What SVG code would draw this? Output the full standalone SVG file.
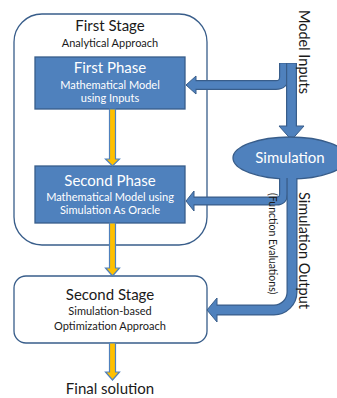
<svg xmlns="http://www.w3.org/2000/svg" width="337" height="398" viewBox="0 0 337 398">
<style>
text{font-family:Lato,"Liberation Sans",sans-serif;fill:#1a1a1a;text-anchor:middle}
.w{fill:#ffffff}
.stage{fill:#ffffff;stroke:#385D8A;stroke-width:1.3}
.phase{fill:#4F81BD;stroke:#385D8A;stroke-width:1.3}
.ya{fill:#FFC000;stroke:#4F81BD;stroke-width:1.2}
.bo{fill:none;stroke:#385D8A;stroke-linejoin:round}
.bi{fill:none;stroke:#4F81BD;stroke-linejoin:round}
.bh{fill:#4F81BD;stroke:#385D8A;stroke-width:1;stroke-linejoin:round}
.lg{font-size:15px}
.sm{font-size:11px}
.rt{text-anchor:start;font-size:14.5px}
.rs{text-anchor:start;font-size:10.5px}
</style>
<rect width="337" height="398" fill="#ffffff"/>
<g id="first-stage">
<rect class="stage" x="14" y="14" width="193" height="231" rx="28"/>
<text class="lg" x="110" y="31">First Stage</text>
<text class="sm" x="110" y="47">Analytical Approach</text>
</g>
<g id="first-phase">
<rect class="phase" x="35" y="57" width="150" height="52"/>
<text class="lg w" x="110" y="73">First Phase</text>
<text class="sm w" x="110" y="89">Mathematical Model</text>
<text class="sm w" x="110" y="102">using Inputs</text>
</g>
<g id="second-phase">
<rect class="phase" x="35" y="166" width="150" height="57"/>
<text class="lg w" x="110" y="186">Second Phase</text>
<text class="sm w" x="110" y="201">Mathematical Model using</text>
<text class="sm w" x="110" y="214">Simulation As Oracle</text>
</g>
<g id="second-stage">
<rect class="stage" x="14" y="276" width="193" height="67" rx="12"/>
<text class="lg" x="110" y="300">Second Stage</text>
<text class="sm" x="110" y="315">Simulation-based</text>
<text class="sm" x="110" y="330">Optimization Approach</text>
</g>
<g id="final-solution">
<text class="lg" x="110" y="394">Final solution</text>
</g>
<g id="connectors">
<polygon class="ya" points="109.5,109 115.5,109 115.5,159 119.5,159 112.5,166 105.5,159 109.5,159"/>
<polygon class="ya" points="109.5,223 115.5,223 115.5,268 119.5,268 112.5,276 105.5,268 109.5,268"/>
<polygon class="ya" points="109.5,343 115.5,343 115.5,372 119.5,372 112.5,380 105.5,372 109.5,372"/>
<path class="bo" stroke-width="10" d="M284,63 V77 Q284,85 276,85 H196"/>
<polygon class="bh" points="196,76 196,94 186,85"/>
<path class="bi" stroke-width="7.6" d="M284,63.6 V77 Q284,85 276,85 H194.5"/>
<path class="bo" stroke-width="11" d="M291.5,63 V127"/>
<polygon class="bh" points="279,126 304,126 291.5,140"/>
<path class="bi" stroke-width="8.6" d="M291.5,63.6 V127.5"/>
</g>
<g id="simulation">
<ellipse class="phase" cx="290" cy="158" rx="57" ry="21"/>
<text class="lg w" x="290" y="163">Simulation</text>
</g>
<g id="connectors-2">
<path class="bo" stroke-width="9" d="M283.5,178 V194 Q283.5,201 276.5,201 H194"/>
<polygon class="bh" points="194,191 194,211 186,201"/>
<path class="bi" stroke-width="6.6" d="M283.5,178 V194 Q283.5,201 276.5,201 H192.5"/>
<path class="bo" stroke-width="11" d="M292,178 V292 A18,18 0 0 1 274,310 H217"/>
<polygon class="bh" points="217,298 217,322 207,310"/>
<path class="bi" stroke-width="8.6" d="M292,178 V292 A18,18 0 0 1 274,310 H215.5"/>
</g>
<g id="labels">
<text class="rt" transform="translate(298.5,10) rotate(90)">Model Inputs</text>
<text class="rt" transform="translate(298.5,192) rotate(90)">Simulation Output</text>
<text class="rs" transform="translate(269,193) rotate(90)">(Function Evaluations)</text>
</g>
</svg>
